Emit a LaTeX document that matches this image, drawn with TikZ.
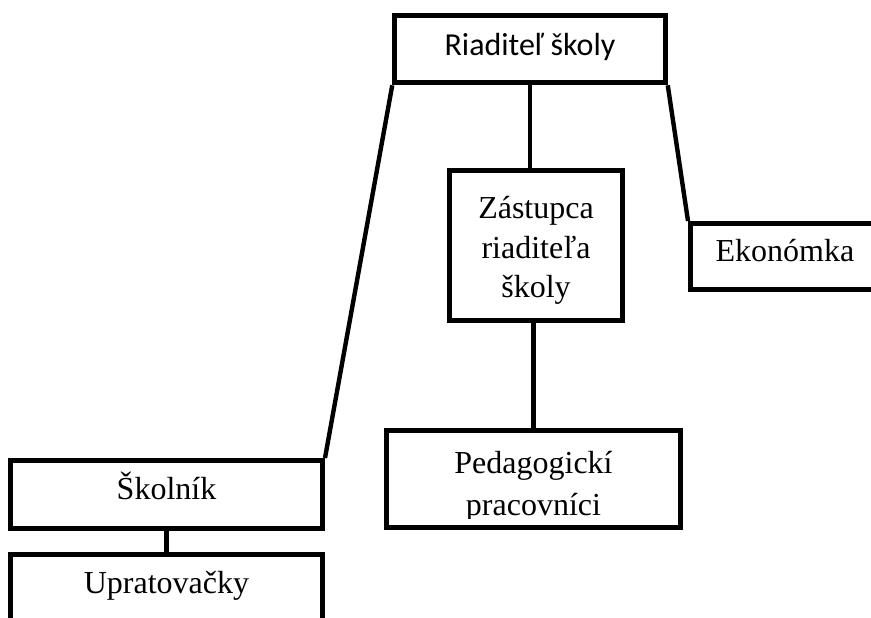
\documentclass[tikz,border=0pt]{standalone}
\usepackage{fontspec}
\setmainfont{Liberation Serif}
\newfontfamily\calibri{Carlito}
\usetikzlibrary{positioning}
\tikzset{
    %Define style for boxes
    obdlznik/.style={
           rectangle,
           draw=black, line width=2.5pt,
           inner sep=0pt,
           text centered,
           font=\fontsize{16}{19.75}\selectfont},
    %Define style for one line of text
    riadok/.style={
           text height=0.7em,
           text depth=0.25em},
    % Define line style
    spoj/.style={
           draw=black,
           line width=2.2pt}
}

\begin{document}
\begin{tikzpicture}[x=0.5pt,y=-0.5pt]
  \useasboundingbox (0,0) rectangle (871,617);
  \clip (0,0) rectangle (871,617);
  \node[obdlznik,riadok,text height=0.85em,minimum width=135.25pt,minimum height=33.75pt,font=\calibri\fontsize{16}{19}\selectfont] (rid) at (530,49) {Riaditeľ školy};
  \node[obdlznik,align=center,minimum width=86.5pt,minimum height=75pt] (zas) at (536,245.5) {\rule{0pt}{16pt}Zástupca\\riaditeľa\\školy};
  \node[obdlznik,riadok,minimum width=94.5pt,minimum height=33pt] (eko) at (785,256.5) {Ekonómka};
  \node[obdlznik,minimum width=147pt,minimum height=48.5pt] (ped) at (533.5,479) {};
  \begin{scope}
    \clip (ped.north west) rectangle ([yshift=6pt]ped.south east);
    \node[align=center,font=\fontsize{16}{21.25}\selectfont] (pedtext) at (533.5,487) {Pedagogickí\\pracovníci};
  \end{scope}
  \node[obdlznik,riadok,minimum width=156pt,minimum height=34pt] (skol) at (166.5,494.5) {Školník};
  \node[obdlznik,riadok,minimum width=156pt,minimum height=34pt] (uprat) at (166.5,588.5) {Upratovačky};
  \path[spoj]
    (rid.south) edge (rid.south |- zas.north)
    (rid.south west) edge (skol.north east)
    (rid.south east) edge (eko.north west)
    (ped.north |- zas.south) edge (ped.north)
    (skol.south) edge (uprat.north);
\end{tikzpicture}
\end{document}
